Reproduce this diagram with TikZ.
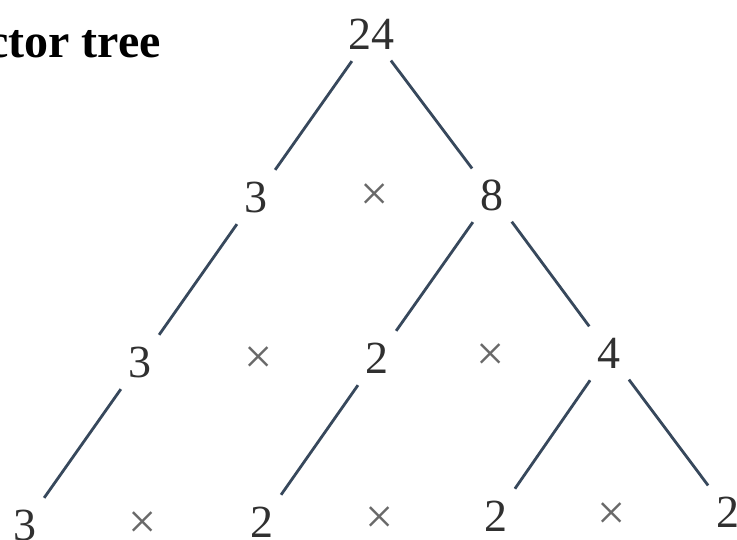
\documentclass[tikz,border=0pt]{standalone}
\usepackage{fontspec}
\setmainfont{Liberation Serif}
\definecolor{linecol}{RGB}{55,72,92}
\definecolor{numgray}{RGB}{48,48,48}
\definecolor{timesgray}{RGB}{105,105,105}
\begin{document}
\begin{tikzpicture}[x=1pt,y=-1pt,
  num/.style={circle, minimum size=66pt, inner sep=0pt, font=\fontsize{46}{46}\selectfont, text=numgray},
  mult/.style={inner sep=0pt, font=\fontsize{50}{50}\selectfont, text=timesgray},
  edge/.style={draw=linecol, line width=2.8pt}]
\useasboundingbox (0,0) rectangle (737,540);
\fill[white] (0,0) rectangle (737,540);
% title
\node[anchor=base west, inner sep=0pt, font=\fontsize{48}{48}\selectfont\bfseries] (title) at (-13,58) {ctor tree};
% level 0
\node[num] (r) at (371,34) {24};
% level 1
\node[num] (a) at (256,197) {3};
\node[mult] (m1) at (375,197) {×};
\node[num] (b) at (492,195) {8};
% level 2
\node[num] (c) at (140,362) {3};
\node[mult] (m2) at (259,360) {×};
\node[num] (d) at (377,358) {2};
\node[mult] (m3) at (491,357) {×};
\node[num] (e) at (609,353) {4};
% level 3
\node[num] (f) at (25,525) {3};
\node[mult] (m4) at (143,525) {×};
\node[num] (g) at (262,522) {2};
\node[mult] (m5) at (380,520) {×};
\node[num] (h) at (496,516) {2};
\node[mult] (m6) at (612,516) {×};
\node[num] (i) at (728,512) {2};
% connectors
\draw[edge] (r) -- (a);
\draw[edge] (r) -- (b);
\draw[edge] (a) -- (c);
\draw[edge] (b) -- (d);
\draw[edge] (b) -- (e);
\draw[edge] (c) -- (f);
\draw[edge] (d) -- (g);
\draw[edge] (e) -- (h);
\draw[edge] (e) -- (i);
\end{tikzpicture}
\end{document}
